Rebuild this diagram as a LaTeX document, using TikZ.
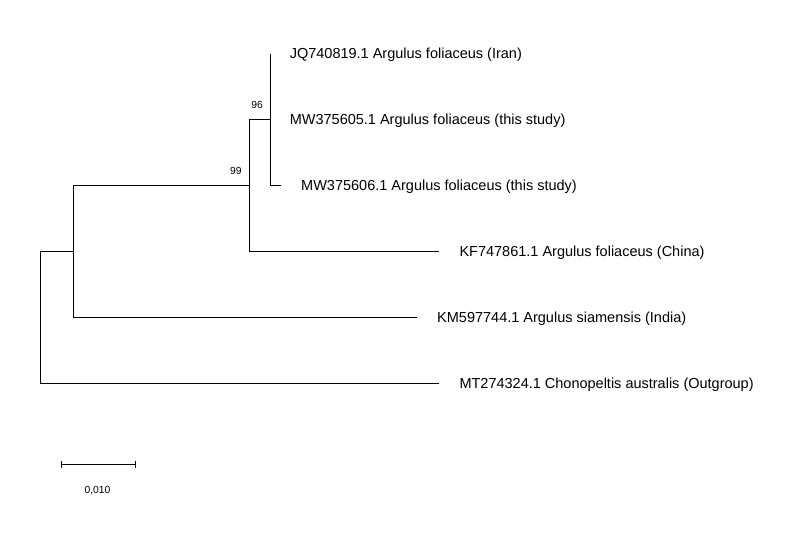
\documentclass[tikz,border=0pt]{standalone}
\usepackage{fontspec}
\setmainfont{Liberation Sans}
\usetikzlibrary{positioning,arrows.meta,calc}

\begin{document}
\begin{tikzpicture}[x=1pt,y=-1pt,line width=1pt]
        \tikzstyle{taxon}=[anchor=west, inner sep=0, yshift=-1pt, font=\fontsize{14.5}{16}\selectfont];
        \tikzstyle{support}=[inner sep=0, font=\fontsize{10.3}{12}\selectfont];

        \useasboundingbox (0,0) rectangle (804,548);

        % noeuds internes
        \coordinate (N1) at (40.5, 317.5);
        \coordinate (N2) at (73.3, 251.5);
        \coordinate (N3) at (249.3, 185.3);
        \coordinate (N4) at (270.7, 119.5);

        % feuilles
        \coordinate (JQ) at (270.7, 54);
        \coordinate (MWa) at (270.7, 119.5);
        \coordinate (MWb) at (280.7, 185.3);
        \coordinate (KF) at (439, 251.7);
        \coordinate (KM) at (416.7, 317.7);
        \coordinate (MT) at (439, 383.5);

        \draw (N2) -| (N1) |- (MT);
        \draw (N3) -| (N2) |- (KM);
        \draw (N4) -| (N3) |- (KF);
        \draw (JQ) -| (N4) |- (MWb);

        \node[taxon, right=18.6pt of JQ] (tJQ) {JQ740819.1 Argulus foliaceus (Iran)};
        \node[taxon, right=18.6pt of MWa] (tMWa) {MW375605.1 Argulus foliaceus (this study)};
        \node[taxon, right=20pt of MWb] (tMWb) {MW375606.1 Argulus foliaceus (this study)};
        \node[taxon, right=20pt of KF] (tKF) {KF747861.1 Argulus foliaceus (China)};
        \node[taxon, right=20pt of KM] (tKM) {KM597744.1 Argulus siamensis (India)};
        \node[taxon, right=20pt of MT] (tMT) {MT274324.1 Chonopeltis australis (Outgroup)};

        \node[support, anchor=south east, above left=10pt and 7.4pt of N4] (b96) {96};
        \node[support, anchor=south east, above left=10.5pt and 7.1pt of N3] (b99) {99};

        % echelle
        \coordinate (E1) at (60.7, 464.3);
        \coordinate (E2) at (135.7, 464.3);
        \draw[{Bar[width=7pt]}-{Bar[width=7pt]}] (E1) -- (E2);
        \node[support, below=22pt of $(E1)!0.5!(E2)$, xshift=-0.8pt] (echelle) {0,010};
    \end{tikzpicture}
\end{document}
